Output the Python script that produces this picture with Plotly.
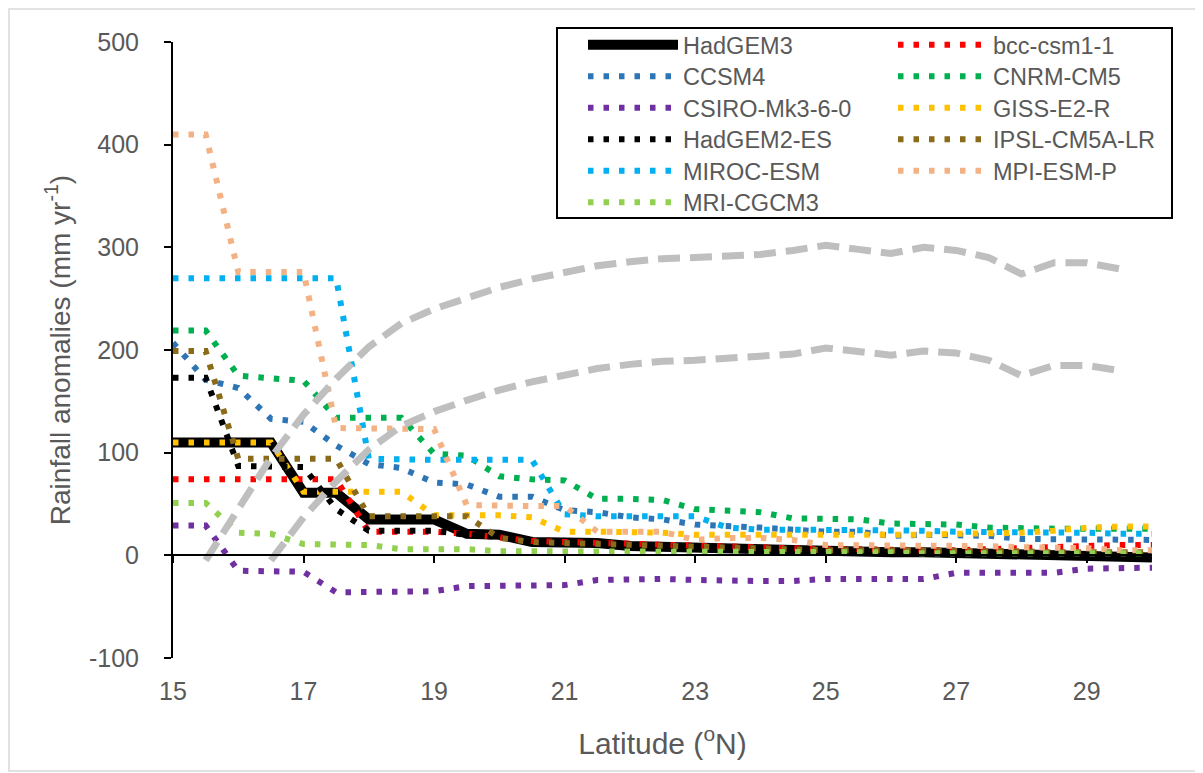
import plotly.graph_objects as go

# ---------------- data ----------------
lat = [15, 15.5, 16, 16.5, 17, 17.5, 18, 18.5, 19, 19.5, 20, 20.5, 21, 21.5, 22, 22.5,
       23, 23.5, 24, 24.5, 25, 25.5, 26, 26.5, 27, 27.5, 28, 28.5, 29, 29.5, 30]

hadgem3 = [110, 110, 110, 110, 61, 61, 35, 35, 35, 21, 20, 13, 13, 12, 9, 8,
           7, 6, 5, 5, 4, 4, 3, 3, 2, 2, 1, 0, 0, -1, -2]
bcc = [74, 74, 74, 74, 74, 74, 23, 23, 23, 21, 18, 14, 13, 12, 11, 10,
       9, 8, 7, 7, 6, 6, 5, 5, 5, 6, 7, 9, 10, 10, 10]
ccsm4 = [207, 171, 163, 133, 130, 107, 89, 85, 71, 69, 57, 57, 44, 42, 37, 35,
         30, 29, 27, 25, 23, 23, 19, 20, 19, 19, 16, 16, 16, 15, 15]
cnrm = [219, 219, 175, 173, 170, 134, 134, 134, 99, 97, 77, 74, 73, 55, 55, 54,
        45, 43, 42, 36, 35, 35, 31, 31, 30, 27, 26, 26, 26, 26, 26]
csiro = [29, 29, -15, -15, -16, -36, -36, -36, -35, -30, -30, -30, -29, -24, -23, -23,
         -24, -25, -25, -25, -23, -23, -23, -23, -17, -17, -17, -17, -13, -12, -12]
giss = [110, 110, 110, 110, 62, 62, 62, 62, 39, 39, 39, 37, 23, 23, 23, 22,
        20, 20, 19, 19, 20, 20, 20, 20, 21, 21, 22, 24, 27, 28, 28]
hadgem2 = [173, 173, 87, 86, 86, 45, 24, 24, 24, 20, 18, 13, 12, 11, 10, 9,
           8, 7, 6, 6, 5, 5, 4, 4, 3, 3, 2, 2, 1, 1, 0]
ipsl = [199, 199, 94, 94, 94, 94, 38, 38, 38, 38, 17, 13, 12, 11, 10, 9,
        8, 7, 6, 6, 5, 5, 5, 4, 4, 4, 4, 3, 3, 3, 3]
miroc = [270, 270, 270, 270, 270, 270, 94, 93, 93, 93, 93, 93, 40, 38, 38, 38,
         38, 27, 25, 25, 25, 24, 24, 24, 23, 23, 22, 22, 22, 21, 21]
mpi = [410, 410, 276, 276, 276, 124, 124, 124, 123, 49, 48, 48, 48, 23, 23, 23,
       15, 17, 17, 15, 10, 10, 10, 9, 9, 9, 8, 8, 7, 5, 5]
mri = [51, 51, 22, 21, 11, 11, 10, 6, 6, 6, 4, 4, 4, 3, 3, 3,
       3, 3, 3, 3, 3, 3, 3, 2, 2, 2, 2, 2, 2, 2, 2]

gray_upper = [None, -5, 45, 95, 137, 172, 203, 226, 240, 251, 261, 269, 276, 282, 286, 289,
              290, 292, 293, 297, 302, 298, 294, 300, 297, 290, 274, 285, 285, 279, None]
gray_lower = [None, None, None, -5, 37, 72, 103, 126, 140, 151, 161, 169, 176, 182, 186, 189,
              190, 192, 193, 196, 202, 198, 195, 199, 197, 190, 175, 185, 185, 180, None]

names = ["HadGEM3", "bcc-csm1-1", "CCSM4", "CNRM-CM5", "CSIRO-Mk3-6-0", "GISS-E2-R",
         "HadGEM2-ES", "IPSL-CM5A-LR", "MIROC-ESM", "MPI-ESM-P", "MRI-CGCM3"]
values = [hadgem3, bcc, ccsm4, cnrm, csiro, giss, hadgem2, ipsl, miroc, mpi, mri]
colors = ["#000000", "#FF0000", "#2E75B6", "#00B050", "#7030A0", "#FFC000",
          "#000000", "#8B6A1A", "#00B0F0", "#F4B183", "#92D050"]

x_ticks = [15, 17, 19, 21, 23, 25, 27, 29]
y_ticks = [-100, 0, 100, 200, 300, 400, 500]
y_ticktext = ["-100", "0", "100", "200", "300", "400", "500"]

FONT = "Liberation Sans"
TXT = "#595959"

OFF = 8  # page body margin
W, H = 1203 - OFF, 773 - OFF
ml, mt = 173 - OFF, 42 - OFF
pw, ph = 979, 616
mr, mb = W - ml - pw, H - mt - ph


def px2x(p):
    return (p - OFF - ml) / pw


def px2y(p):
    return (mt + ph - (p - OFF)) / ph


fig = go.Figure()
legends = {}
for i, (name, vals, col) in enumerate(zip(names, values, colors)):
    lg = "legend" if i == 0 else "legend%d" % (i + 1)
    if i == 0:
        line = dict(color=col, width=10)
    else:
        line = dict(color=col, width=6, dash="5.5px,10px")
    fig.add_trace(go.Scatter(x=lat, y=vals, mode="lines", name=name, line=line,
                             legend=lg, hoverinfo="skip"))
    col_i, row_i = i % 2, i // 2
    legends[lg] = dict(x=px2x(583 if col_i == 0 else 893), y=px2y(45 + 31.5 * row_i),
                       xanchor="left", yanchor="middle", bgcolor="rgba(0,0,0,0)",
                       borderwidth=0, itemwidth=90, tracegroupgap=0,
                       font=dict(family=FONT, size=23.5, color=TXT))

for vals in (gray_upper, gray_lower):
    fig.add_trace(go.Scatter(x=lat, y=vals, mode="lines", showlegend=False,
                             line=dict(color="#BFBFBF", width=7, dash="22px,10px"),
                             hoverinfo="skip"))

# dummy trace to carry the bottom label axis
fig.add_trace(go.Scatter(x=[lat[0]], y=[None], xaxis="x2", showlegend=False,
                         hoverinfo="skip", mode="lines"))

fig.update_layout(
    width=W, height=H,
    margin=dict(l=ml, r=mr, t=mt, b=mb, pad=0),
    paper_bgcolor="white", plot_bgcolor="white",
    font=dict(family=FONT, color=TXT, size=22),
    xaxis=dict(range=[15, 30], tickvals=x_ticks, showticklabels=False,
               anchor="free", position=1 / 6, showline=True, linecolor="black",
               linewidth=2, ticks="outside", ticklen=7, tickwidth=2, tickcolor="black",
               showgrid=False, zeroline=False),
    xaxis2=dict(range=[15, 30], tickvals=x_ticks, overlaying="x", anchor="y", side="bottom",
                showline=False, ticks="", showgrid=False, zeroline=False,
                tickfont=dict(family=FONT, size=25, color=TXT), ticklabelstandoff=16,
                title=dict(text="Latitude (<sup>o</sup>N)", font=dict(family=FONT, size=30, color=TXT),
                           standoff=28)),
    yaxis=dict(range=[-100, 500], tickvals=y_ticks, ticktext=y_ticktext, showline=True,
               linecolor="black", linewidth=2,
               ticks="outside", ticklen=7, tickwidth=2, tickcolor="black", showgrid=False,
               zeroline=False, tickfont=dict(family=FONT, size=25, color=TXT), ticklabelstandoff=20,
               title=dict(text="Rainfall anomalies (mm yr<sup>-1</sup>)",
                          font=dict(family=FONT, size=28, color=TXT), standoff=10)),
    shapes=[
        dict(type="rect", xref="paper", yref="paper", x0=px2x(557), x1=px2x(1172),
             y0=px2y(218), y1=px2y(28), line=dict(color="black", width=2),
             fillcolor="white", layer="below"),
        dict(type="rect", xref="paper", yref="paper", x0=px2x(OFF + 1), x1=px2x(1201),
             y0=px2y(771), y1=px2y(OFF + 1), line=dict(color="#D9D9D9", width=1.5),
             fillcolor="rgba(0,0,0,0)", layer="below"),
    ],
    showlegend=True,
    **legends,
)

fig.write_html("out.html")
